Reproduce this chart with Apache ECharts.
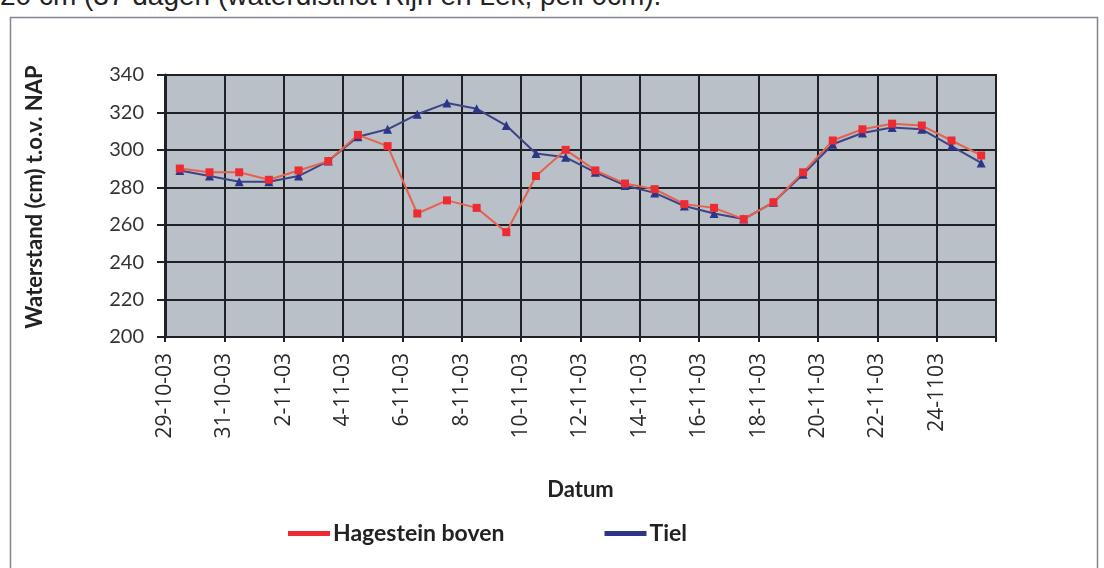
<!DOCTYPE html>
<html>
<head>
<meta charset="utf-8">
<script src="https://cdn.jsdelivr.net/npm/echarts@6/dist/echarts.min.js"></script>
<style>
html,body{margin:0;padding:0;background:#fff;overflow:hidden;}
#top{position:absolute;left:0;top:-20px;font:28px "Liberation Sans",Arial,sans-serif;color:#222;white-space:nowrap;}
#c{position:absolute;left:0;top:0;width:1104px;height:568px;}
</style>
</head>
<body>
<div id="top">20 cm (37 dagen (waterdistrict Rijn en Lek, peil 0cm).</div>
<div id="c"></div>
<script>
// days shown (one point per day)
const dates = ['29-10','30-10','31-10','1-11','2-11','3-11','4-11','5-11','6-11','7-11','8-11','9-11','10-11','11-11','12-11','13-11','14-11','15-11','16-11','17-11','18-11','19-11','20-11','21-11','22-11','23-11','24-11','25-11'];
// tick labels every second day
const tickLabels = ['29-10-03','31-10-03','2-11-03','4-11-03','6-11-03','8-11-03','10-11-03','12-11-03','14-11-03','16-11-03','18-11-03','20-11-03','22-11-03','24-1103',''];
const yTicks = [200,220,240,260,280,300,320,340];
// Waterstand (cm) t.o.v. NAP
const hagestein = [290,288,288,284,289,294,308,302,266,273,269,256,286,300,289,282,279,271,269,263,272,288,305,311,314,313,305,297];
const tiel      = [289,286,283,283,286,294,307,311,319,325,322,313,298,296,288,281,277,270,266,263,272,287,303,309,312,311,302,293];

const chart = echarts.init(document.getElementById('c'), null, {renderer:'canvas'});
const toPts = arr => arr.map((v,i)=>[i+0.5, v]);
const gridColor = '#1e2226';
chart.setOption({
  animation:false,
  backgroundColor:'transparent',
  graphic:[{
    type:'rect', shape:{x:10.5,y:17.5,width:1087,height:600}, silent:true,
    style:{fill:'none', stroke:'#8a8090', lineWidth:1.5}
  },{
    type:'text', x:35, y:197, rotation:Math.PI/2, silent:true,
    style:{text:'Waterstand (cm) t.o.v. NAP', align:'center', verticalAlign:'middle',
      font:'bold 22px Lato', fill:'#222'}
  }],
  grid:{left:165, right:108, top:75, bottom:231, show:true, backgroundColor:'#b9c0c7', borderColor:gridColor, borderWidth:2},
  legend:{
    data:['Hagestein boven','Tiel'], left:283, top:517, itemGap:100, itemWidth:42, itemHeight:5, icon:'rect',
    textStyle:{fontFamily:'Lato', fontWeight:'bold', fontSize:23, color:'#222', padding:[0,0,0,-2]}
  },
  xAxis:{
    type:'value', min:0, max:28, interval:2,
    name:'Datum', nameLocation:'middle', nameGap:142,
    nameTextStyle:{fontFamily:'Lato', fontWeight:'bold', fontSize:22, color:'#222'},
    axisLine:{show:true, lineStyle:{color:gridColor, width:2}},
    axisTick:{show:true, length:5, lineStyle:{color:gridColor, width:2}},
    axisLabel:{rotate:90, margin:16, fontFamily:'Open Sans', fontSize:21, color:'#2a2a2a',
      formatter:v=>tickLabels[Math.round(v/2)] || ''},
    splitLine:{show:true, lineStyle:{color:gridColor, width:2}}
  },
  yAxis:{
    type:'value', min:yTicks[0], max:yTicks[yTicks.length-1], interval:20,
    axisLine:{show:true, lineStyle:{color:gridColor, width:3}},
    axisTick:{show:true, length:8, lineStyle:{color:gridColor, width:2}},
    axisLabel:{margin:21, fontFamily:'Lato', fontSize:20, color:'#333'},
    splitLine:{show:true, lineStyle:{color:gridColor, width:2}}
  },
  series:[
    {name:'Tiel', type:'line', data:toPts(tiel), symbol:'triangle', symbolSize:9,
     lineStyle:{color:'#3a4486', width:2}, itemStyle:{color:'#2c3588'}, color:'#2c3588'},
    {name:'Hagestein boven', type:'line', data:toPts(hagestein), symbol:'rect', symbolSize:8,
     lineStyle:{color:'#e8604e', width:2}, itemStyle:{color:'#ec2b33'}, color:'#ec2b33'}
  ]
});
</script>
</body>
</html>
